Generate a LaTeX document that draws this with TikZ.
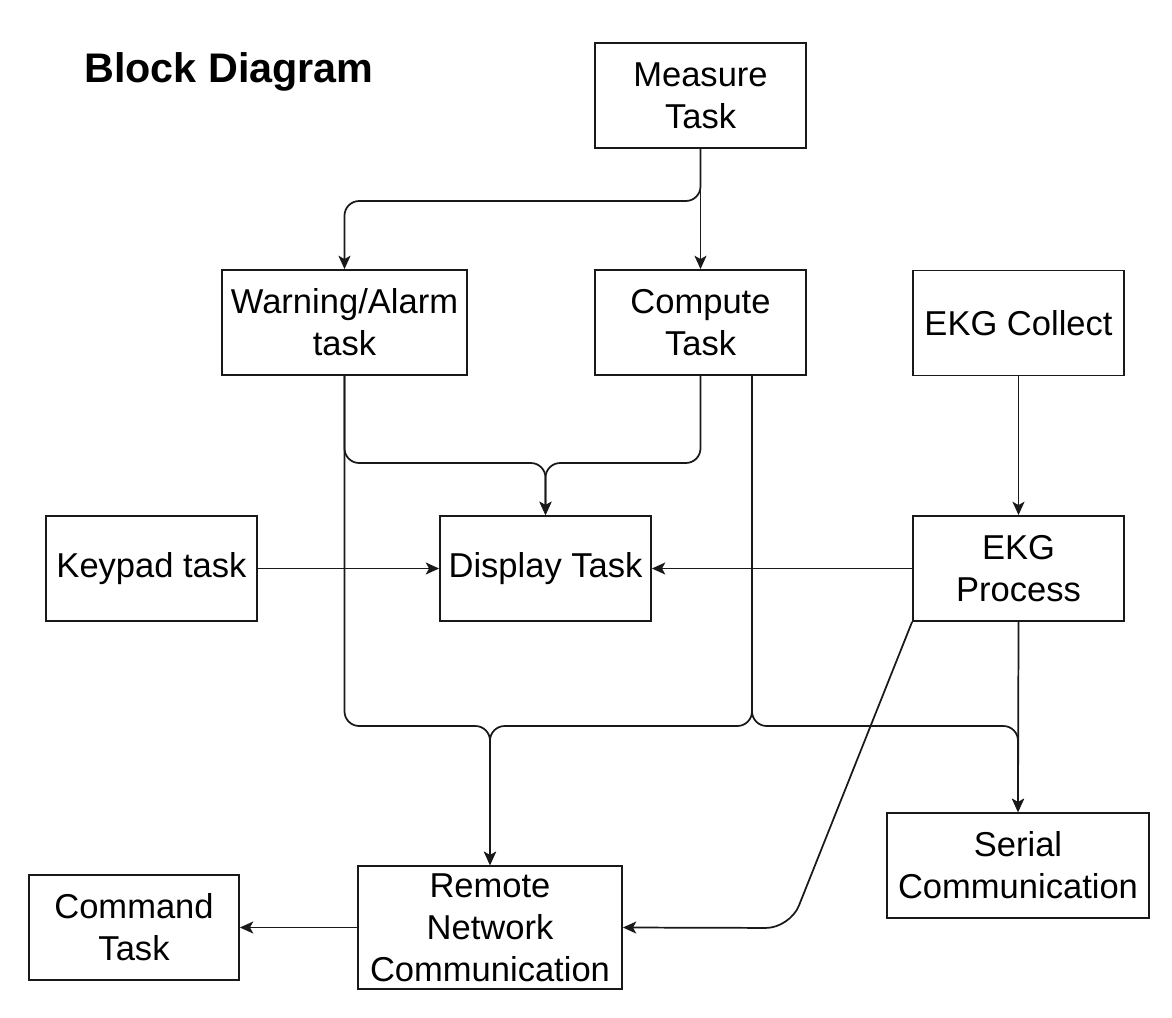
\documentclass[tikz,border=0pt]{standalone}
\usepackage{fontspec}
\setmainfont{Liberation Sans}
\usetikzlibrary{arrows.meta,calc}
\begin{document}
\begin{tikzpicture}[x=0.75pt,y=-0.75pt,
  box/.style={draw=black!90, line width=1.4pt, inner sep=1pt, align=center,
    minimum width=158.25pt, minimum height=78.75pt,
    font=\fontsize{25.9pt}{31.5pt}\selectfont},
  conn/.style={draw=black!90, line width=1.3pt,
    -{Stealth[length=10pt,width=9pt,inset=2.5pt]}},
  elbowed/.style={rounded corners=11pt}]
\useasboundingbox (0,0) rectangle (1172,1018);
\fill[white] (0,0) rectangle (1172,1018);

\node[anchor=base west, inner sep=0pt, font=\fontsize{31pt}{37pt}\selectfont\bfseries] (title) at (84,82) {Block Diagram};

\node[box] (Measure) at (700.5,95.5) {Measure\\Task};
\node[box] (Compute) at (700.5,322.5) {Compute\\Task};
\node[box, minimum width=183.75pt] (Warning) at (344.5,322.5) {Warning/Alarm\\task};
\node[box] (EKGC) at (1018.5,323) {EKG Collect};
\node[box] (Keypad) at (151.5,568.5) {Keypad task};
\node[box] (Display) at (545.5,568.5) {Display Task};
\node[box] (EKGP) at (1018.5,568.5) {EKG\\Process};
\node[box, minimum width=196.5pt] (Serial) at (1018,865.5) {Serial\\Communication};
\node[box, minimum width=198pt, minimum height=92.25pt] (Remote) at (490,927.5) {Remote\\Network\\Communication};
\node[box, minimum width=157.5pt] (Command) at (134,927.5) {Command\\Task};

\coordinate (lvlA) at (0,201);
\coordinate (lvlB) at (0,463);
\coordinate (lvlC) at (0,726);
\coordinate (cs2) at ($(Compute.south)+(51.5,0)$);
\coordinate (elbow) at (790,928);

% Measure
\draw[conn] (Measure.south) -- (Compute.north);
\draw[conn,elbowed] (Measure.south) -- (Measure.south |- lvlA) -- (Warning.north |- lvlA) -- (Warning.north);

% to Display
\draw[conn,elbowed] (Warning.south) -- (Warning.south |- lvlB) -- (Display.north |- lvlB) -- (Display.north);
\draw[conn,elbowed] (Compute.south) -- (Compute.south |- lvlB) -- (Display.north |- lvlB) -- (Display.north);
\draw[conn] (Keypad.east) -- (Display.west);
\draw[conn] (EKGP.west) -- (Display.east);

% EKG
\draw[conn] (EKGC.south) -- (EKGP.north);
\draw[conn] (EKGP.south) -- (Serial.north);

% to Remote / Serial
\draw[conn,elbowed] (Warning.south) -- (Warning.south |- lvlC) -- (Remote.north |- lvlC) -- (Remote.north);
\draw[conn,elbowed] (cs2) -- (cs2 |- lvlC) -- (Remote.north |- lvlC) -- (Remote.north);
\draw[conn,elbowed] (cs2) -- (cs2 |- lvlC) -- (Serial.north |- lvlC) -- (Serial.north);
\draw[conn,rounded corners=18pt] (EKGP.south west) -- (elbow) -- (Remote.east);
\draw[conn] (Remote.west) -- (Command.east);
\end{tikzpicture}
\end{document}
